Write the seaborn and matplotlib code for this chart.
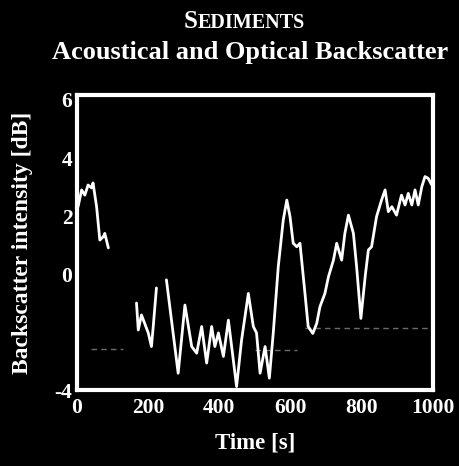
"""Sediments: acoustical and optical backscatter time series."""
import pandas as pd
import numpy as np
import matplotlib
matplotlib.use('Agg')
import matplotlib.pyplot as plt
import seaborn as sns

# acoustic backscatter (gaps kept as separate segments)
seg1_t = [4, 14, 23, 32, 42, 46, 56, 65, 75, 79, 89]
seg1_v = [2.32, 2.9, 2.72, 3.07, 2.97, 3.14, 2.32, 1.17, 1.29, 1.4, 0.9]
seg2_t = [168, 173, 182, 201, 210, 215, 224]
seg2_v = [-1.0, -1.93, -1.41, -2.03, -2.5, -1.81, -0.48]
seg3_t = [252, 285, 304, 323, 337, 351, 365, 379, 388, 398,
          412, 426, 449, 463, 482, 496, 505, 515, 529, 541,
          552, 566, 580, 590, 599, 608, 618, 627, 641, 650,
          663, 674, 683, 697, 707, 721, 730, 744, 753, 763,
          777, 786, 798, 810, 819, 828, 842, 856, 866, 875,
          885, 898, 912, 922, 931, 941, 950, 959, 969, 978,
          987, 997]
seg3_v = [-0.2, -3.42, -1.07, -2.5, -2.73, -1.81, -3.07, -1.81, -2.5, -2.03,
          -2.84, -1.59, -3.88, -2.28, -0.67, -1.81, -2.03, -3.42, -2.5, -3.59,
          -2.03, 0.25, 1.86, 2.55, 1.98, 1.06, 0.94, 1.06, -0.67, -1.81,
          -2.05, -1.7, -1.13, -0.67, -0.09, 0.48, 1.06, 0.48, 1.4, 2.03,
          1.4, 0.25, -1.53, -0.09, 0.83, 0.94, 1.98, 2.55, 2.9, 2.15,
          2.32, 2.03, 2.72, 2.38, 2.78, 2.38, 2.9, 2.38, 3.01, 3.36,
          3.3, 3.07]

# faint optical trace (mostly lost in the scan)
opt_t = [40, 130, 500, 620, 640, 1000]
opt_v = [-2.6, -2.6, -2.62, -2.62, -1.86, -1.86]
opt_seg = [0, 0, 1, 1, 2, 2]

xticks = [0, 200, 400, 600, 800, 1000]
yticks = [-4, 0, 2, 4, 6]

acoustic = pd.concat([
    pd.DataFrame({"t": seg1_t, "v": seg1_v, "seg": 0}),
    pd.DataFrame({"t": seg2_t, "v": seg2_v, "seg": 1}),
    pd.DataFrame({"t": seg3_t, "v": seg3_v, "seg": 2}),
])
optical = pd.DataFrame({"t": opt_t, "v": opt_v, "seg": opt_seg})

sns.set_theme(style="dark", rc={
    "figure.facecolor": "black", "axes.facecolor": "black",
    "axes.edgecolor": "white", "text.color": "white",
    "xtick.color": "white", "ytick.color": "white",
    "axes.labelcolor": "white", "axes.grid": False,
})
plt.rcParams['font.family'] = ['Liberation Serif', 'DejaVu Serif']

fig = plt.figure(figsize=(4.59, 4.66), dpi=100)
ax = fig.add_axes([0.167, 0.163, 0.776, 0.633])

sns.lineplot(data=optical, x="t", y="v", units="seg", estimator=None,
             color="#9a9a9a", lw=1.0, ls=(0, (4, 3)), ax=ax, alpha=0.7)
sns.lineplot(data=acoustic, x="t", y="v", units="seg", estimator=None,
             color="white", lw=2.0, ax=ax)

ax.set_xlim(0, 1000)
ax.set_ylim(-4, 6.17)
ax.set_xticks(xticks)
ax.set_yticks(yticks)
ax.set_xticklabels([str(x) for x in xticks], fontsize=15.5, fontweight="bold")
ax.set_yticklabels([str(y) for y in yticks], fontsize=15.5, fontweight="bold")
ax.tick_params(axis="x", length=0, pad=6)
ax.tick_params(axis="y", length=0, pad=3)
for s in ax.spines.values():
    s.set_linewidth(3)
    s.set_color("white")

ax.set_xlabel("Time [s]", fontsize=16.5, fontweight="bold", labelpad=10)
ax.set_ylabel("Backscatter intensity [dB]", fontsize=17, fontweight="bold", labelpad=16)

# small-caps style title
fig.text(0.43, 0.94, "S", fontsize=18, fontweight="bold", ha="right", va="baseline")
fig.text(0.43, 0.94, "EDIMENTS", fontsize=14.5, fontweight="bold", ha="left", va="baseline")
fig.text(0.545, 0.874, "Acoustical and Optical Backscatter", fontsize=19,
         fontweight="bold", ha="center", va="baseline")

fig.savefig("out.png", dpi=100, facecolor="black")
